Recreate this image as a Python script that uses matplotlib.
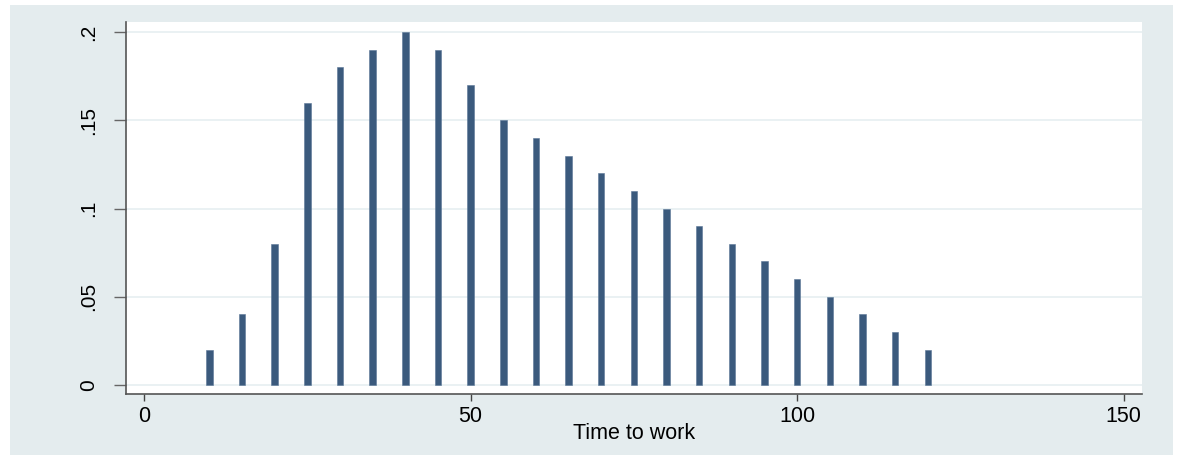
import numpy as np
import matplotlib.pyplot as plt
from matplotlib.patches import Rectangle

# time to work (minutes) and density
time_to_work = [10, 15, 20, 25, 30, 35, 40, 45, 50, 55, 60, 65,
                70, 75, 80, 85, 90, 95, 100, 105, 110, 115, 120]
density = [0.02, 0.04, 0.08, 0.16, 0.18, 0.19, 0.20, 0.19, 0.17, 0.15, 0.14, 0.13,
           0.12, 0.11, 0.10, 0.09, 0.08, 0.07, 0.06, 0.05, 0.04, 0.03, 0.02]

x_ticks = [0, 50, 100, 150]
y_ticks = [0, 0.05, 0.1, 0.15, 0.2]
y_tick_labels = ['0', '.05', '.1', '.15', '.2']

plt.rcParams['font.family'] = ['Liberation Sans', 'DejaVu Sans']

fig = plt.figure(figsize=(11.82, 4.62), dpi=100)
fig.patch.set_facecolor('white')

# stata style outer region
bg = Rectangle((10 / 1182, 7 / 462), 1163 / 1182, 450 / 462,
               transform=fig.transFigure, facecolor='#e4ecee', edgecolor='none', zorder=-10)
fig.add_artist(bg)

ax = fig.add_axes([126 / 1182, 68 / 462, 1016 / 1182, 372 / 462])
ax.set_zorder(5)
ax.set_facecolor('white')

ax.bar(time_to_work, density, width=1.0, color='#3b5a7d', edgecolor='#5a7696',
       linewidth=0.4, zorder=3)

ax.set_xlim(-2.76, 152.8)
ax.set_ylim(-0.0051, 0.2057)

ax.set_yticks(y_ticks)
ax.set_yticklabels(y_tick_labels, rotation=90, va='center')
ax.set_xticks(x_ticks)

ax.grid(axis='y', color='#e6eff1', linewidth=1.2, zorder=1)
ax.grid(axis='x', visible=False)

for s in ['top', 'right']:
    ax.spines[s].set_visible(False)
for s in ['left', 'bottom']:
    ax.spines[s].set_color('#555555')
    ax.spines[s].set_linewidth(1.2)

ax.tick_params(axis='y', length=9, width=1, color='#666666', pad=11, labelsize=15)
ax.tick_params(axis='x', length=5, width=1, color='#444444', pad=4, labelsize=15.5)

ax.set_xlabel('Time to work', fontsize=15.5, labelpad=-3)

plt.savefig('out.png', dpi=100)
